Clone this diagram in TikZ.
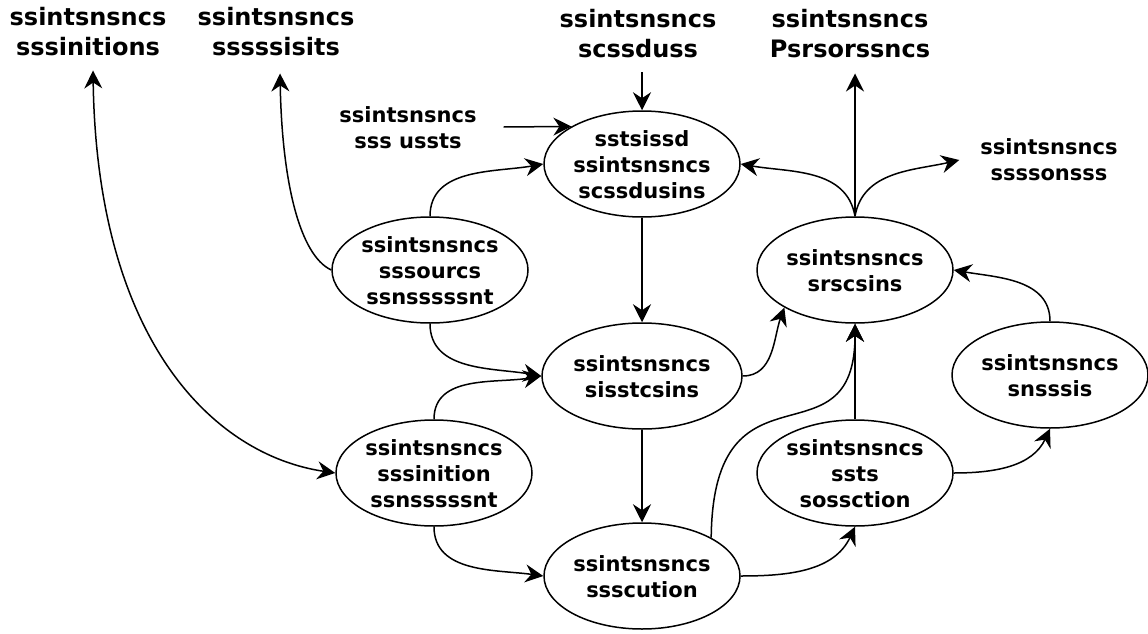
\documentclass[tikz,border=0pt]{standalone}
\usepackage{fontspec}
\setmainfont{DejaVu Sans}
\usetikzlibrary{shapes.geometric,arrows.meta,calc}

\begin{document}
\begin{tikzpicture}[x=1pt,y=-1pt,
  ell/.style={draw, line width=1.5pt, ellipse, minimum width=196pt,
    minimum height=106pt, inner sep=0pt},
  etext/.style={align=center, inner sep=0pt, yshift=-1pt,
    font=\fontsize{21}{26}\selectfont\bfseries},
  toplbl/.style={align=center, inner sep=0pt,
    font=\fontsize{24}{30}\selectfont\bfseries},
  sidelbl/.style={align=center, inner sep=0pt,
    font=\fontsize{21}{26}\selectfont\bfseries},
  arr/.style={line width=1.5pt, -{Stealth[length=18pt,width=18pt,inset=6pt]}},
  dblarr/.style={line width=1.5pt,
    {Stealth[length=18pt,width=18pt,inset=6pt]}-{Stealth[length=18pt,width=18pt,inset=6pt]}}
]
\useasboundingbox (0,0) rectangle (1148,634);

% free labels
\node[toplbl]  (L1) at (88,32)   {ssintsnsncs\\sssinitions};
\node[toplbl]  (L2) at (276,32)  {ssintsnsncs\\sssssisits};
\node[toplbl]  (L3) at (638,34)  {ssintsnsncs\\scssduss};
\node[toplbl]  (L4) at (850,34)  {ssintsnsncs\\Psrsorssncs};
\node[sidelbl] (L5) at (408,128) {ssintsnsncs\\sss ussts};
\node[sidelbl] (L6) at (1049,160){ssintsnsncs\\ssssonsss};

% ellipses
\node[ell, label={[etext]center:sstsissd\\ssintsnsncs\\scssdusins}] (E1) at (642,164) {};
\node[ell, label={[etext]center:ssintsnsncs\\sssourcs\\ssnsssssnt}] (E2) at (430,270) {};
\node[ell, minimum width=200pt, label={[etext]center:ssintsnsncs\\sisstcsins}] (E3) at (642,376) {};
\node[ell, label={[etext]center:ssintsnsncs\\sssinition\\ssnsssssnt}] (E4) at (434,473) {};
\node[ell, label={[etext]center:ssintsnsncs\\ssscution}] (E5) at (642,576) {};
\node[ell, label={[etext]center:ssintsnsncs\\srscsins}] (E6) at (855,270) {};
\node[ell, label={[etext]center:ssintsnsncs\\snsssis}] (E7) at (1050,375) {};
\node[ell, label={[etext]center:ssintsnsncs\\ssts\\sossction}] (E8) at (855,473) {};

% connectors
\draw[arr] ($(L5.east)+(27,-1)$) -- (E1.152);
\draw[arr] ($(L3.south)+(4,14)$) -- (E1.north);
\draw[arr] (E2.north) to[out=90,in=190] (E1.west);
\draw[arr] (E2.west) .. controls +(-32,-15) and +(2,107) .. ($(L2.south)+(4,17)$);
\draw[arr] (E2.south) to[out=-90,in=170] (E3.west);
\draw[arr] (E4.north) to[out=90,in=190] (E3.west);
\draw[arr] (E1.south) -- (E3.north);
\draw[arr] (E3.south) -- (E5.north);
\draw[arr] (E4.south) to[out=-90,in=172] (E5.west);
\draw[dblarr] ($(L1.south)+(5,14)$) .. controls +(4,270) and +(-122,-18) .. (E4.west);
\draw[arr] (E3.east) to[out=0,in=-110] (E6.208);
\draw[arr] (E5.29) .. controls +(2,-187) and +(0,147) .. (E6.south);
\draw[arr] (E8.north) -- (E6.south);
\draw[arr] (E5.east) to[out=0,in=-115] (E8.south);
\draw[arr] (E8.east) to[out=0,in=-115] (E7.south);
\draw[arr] (E7.north) to[out=90,in=-10] (E6.east);
\draw[arr] (E6.north) -- ($(L4.south)+(5,15)$);
\draw[arr] (E6.north) to[out=100,in=-10] (E1.east);
\draw[arr] (E6.north) to[out=80,in=193] ($(L6.west)+(-21,0)$);
\end{tikzpicture}
\end{document}
